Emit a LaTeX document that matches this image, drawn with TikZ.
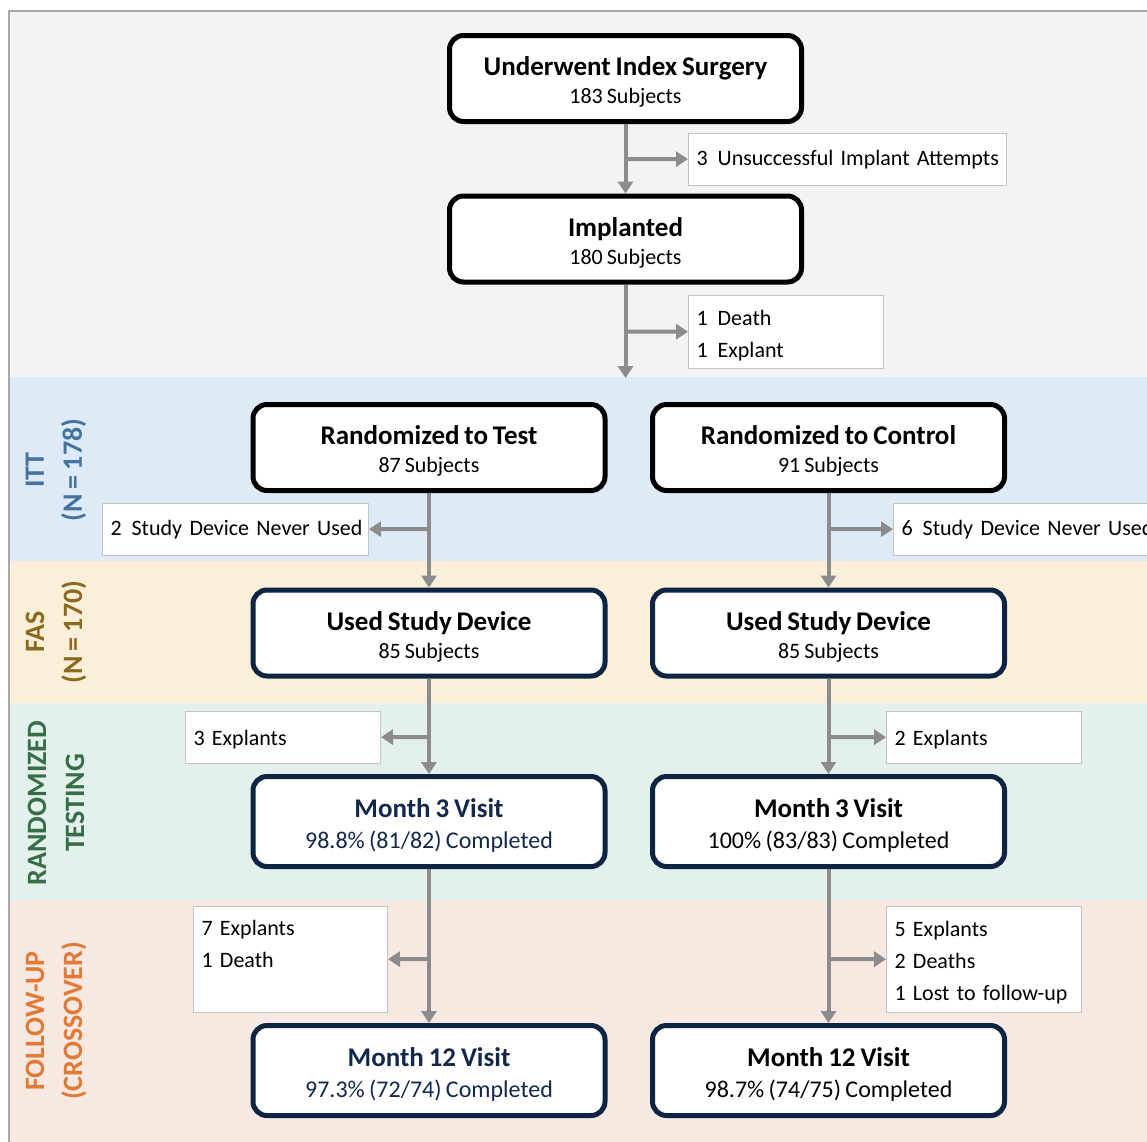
\documentclass[tikz,border=0pt]{standalone}
\usepackage{fontspec}
\setmainfont{Carlito}[WordSpace=0.8]
\usetikzlibrary{arrows.meta}
\definecolor{bgtop}{HTML}{F1F3F5}
\definecolor{bgitt}{HTML}{DEEBF7}
\definecolor{bgfas}{HTML}{FCEFDA}
\definecolor{bgrnd}{HTML}{E3F0EC}
\definecolor{bgfu}{HTML}{F7E8E1}
\definecolor{cnavy}{HTML}{0E2443}
\definecolor{tnavy}{HTML}{13294B}
\definecolor{arrgray}{HTML}{8C8C8C}
\definecolor{sidegray}{HTML}{C4C4C4}
\definecolor{framegray}{HTML}{A8A8A8}
\definecolor{labitt}{HTML}{4473A0}
\definecolor{labfas}{HTML}{8A6A1F}
\definecolor{labrnd}{HTML}{356E47}
\definecolor{labfu}{HTML}{E07A35}
\newcommand{\ttl}[1]{{\fontsize{27}{28}\selectfont\bfseries\rule{0pt}{26pt}#1}}
\newcommand{\gap}{\hspace{10pt}}
\DeclareRobustCommand{\tightsp}{\spaceskip=4.6pt\relax}
\begin{document}
\begin{tikzpicture}[x=1pt,y=-1pt,
  mainbox/.style={draw=black, line width=5pt, rounded corners=14pt, fill=white,
    minimum width=352pt, minimum height=86pt, align=center, inner sep=0pt,
    font=\fontsize{22}{28}\selectfont},
  navybox/.style={mainbox, draw=cnavy, minimum height=90pt, font=\fontsize{24}{31}\selectfont},
  sidebox/.style={draw=sidegray, line width=1pt, fill=white, align=left,
    inner xsep=8pt, inner ysep=0pt, font={\fontsize{22}{32}\selectfont\tightsp}},
  arr/.style={draw=arrgray, line width=4pt, -{Triangle[length=12pt,width=15pt]}},
  seclabel/.style={rotate=90, align=center, font=\fontsize{28}{38}\selectfont\bfseries}]

\useasboundingbox (0,0) rectangle (1147,1141);

% background bands
\fill[bgtop] (9,11) rectangle (1170,377);
\fill[bgitt] (9,377) rectangle (1170,561);
\fill[bgfas] (9,561) rectangle (1170,703);
\fill[bgrnd] (9,703) rectangle (1170,900);
\fill[bgfu]  (9,900) rectangle (1170,1170);
\draw[framegray, line width=1.5pt] (9,1170) -- (9,11) -- (1170,11);

% section labels
\node[seclabel, text=labitt] (litt) at (56,470) {ITT\\(N = 178)};
\node[seclabel, text=labfas] (lfas) at (56,632) {FAS\\(N = 170)};
\node[seclabel, text=labrnd] (lrnd) at (56,803) {RANDOMIZED\\TESTING};
\node[seclabel, text=labfu]  (lfu)  at (56,1021) {FOLLOW-UP\\(CROSSOVER)};

% main boxes
\node[mainbox] (U) at (625.5,78.5) {\ttl{Underwent Index Surgery}\\183 Subjects};
\node[mainbox] (I) at (625.5,239) {\ttl{Implanted}\\180 Subjects};
\node[mainbox] (RT) at (429,447.5) {\ttl{Randomized to Test}\\87 Subjects};
\node[mainbox] (RC) at (828.5,447.5) {\ttl{Randomized to Control}\\91 Subjects};
\node[mainbox, draw=cnavy] (UT) at (429,633) {\ttl{Used Study Device}\\85 Subjects};
\node[mainbox, draw=cnavy] (UC) at (828.5,633) {\ttl{Used Study Device}\\85 Subjects};
\node[navybox, text=tnavy] (M3T) at (429,821.5) {\ttl{Month 3 Visit}\\98.8\% (81/82) Completed};
\node[navybox] (M3C) at (828.5,821.5) {\ttl{Month 3 Visit}\\100\% (83/83) Completed};
\node[navybox, text=tnavy] (M12T) at (429,1070.5) {\ttl{Month 12 Visit}\\97.3\% (72/74) Completed};
\node[navybox] (M12C) at (828.5,1070.5) {\ttl{Month 12 Visit}\\98.7\% (74/75) Completed};

% side boxes
\node[sidebox, anchor=north west, minimum width=318pt, minimum height=52pt, text width=302pt] (unsucc) at (688,133) {\mbox{3\gap Unsuccessful Implant Attempts}};
\node[sidebox, anchor=north west, minimum width=195pt, minimum height=73pt, text width=179pt] (death) at (688,295) {\rule{0pt}{22pt}1\gap Death\\1\gap Explant};
\node[sidebox, anchor=north west, minimum width=266pt, minimum height=52pt, text width=250pt] (never2) at (102,503) {\mbox{2\gap Study Device Never Used}};
\node[sidebox, anchor=north west, minimum width=280pt, minimum height=52pt, text width=264pt] (never6) at (893,503) {\mbox{6\gap Study Device Never Used}};
\node[sidebox, anchor=north west, minimum width=195pt, minimum height=52pt, text width=179pt] (expl3) at (185,711) {\rule{0pt}{19pt}3 Explants};
\node[sidebox, anchor=north west, minimum width=195pt, minimum height=52pt, text width=179pt] (expl2) at (886,711) {\rule{0pt}{19pt}2 Explants};
\node[sidebox, anchor=north west, minimum width=194pt, minimum height=106pt, text width=178pt] (ex7) at (193,906) {7 Explants\\1 Death\\\mbox{}};
\node[sidebox, anchor=north west, minimum width=195pt, minimum height=106pt, text width=179pt] (ex5) at (886,906) {\rule{0pt}{21pt}5 Explants\\2 Deaths\\1 Lost to follow-up};

% branch points
\coordinate (b1) at (625.5,159);
\coordinate (b2) at (625.5,331.5);
\coordinate (ittend) at (625.5,378);
\coordinate (b3) at (429,529);
\coordinate (b4) at (828.5,529);
\coordinate (b5) at (429,737);
\coordinate (b6) at (828.5,737);
\coordinate (b7) at (429,959);
\coordinate (b8) at (828.5,959);

% connectors
\draw[arr] (b1) -- (unsucc);
\draw[arr] (b2) -- (death);
\draw[arr] (b3) -- (never2);
\draw[arr] (b4) -- (never6);
\draw[arr] (b5) -- (expl3);
\draw[arr] (b6) -- (expl2);
\draw[arr] (b7) -- (ex7);
\draw[arr] (b8) -- (ex5);
\draw[arr] (U) -- (I);
\draw[arr] (I) -- (ittend);
\draw[arr] (RT) -- (UT);
\draw[arr] (RC) -- (UC);
\draw[arr] (UT) -- (M3T);
\draw[arr] (UC) -- (M3C);
\draw[arr] (M3T) -- (M12T);
\draw[arr] (M3C) -- (M12C);
\end{tikzpicture}
\end{document}
